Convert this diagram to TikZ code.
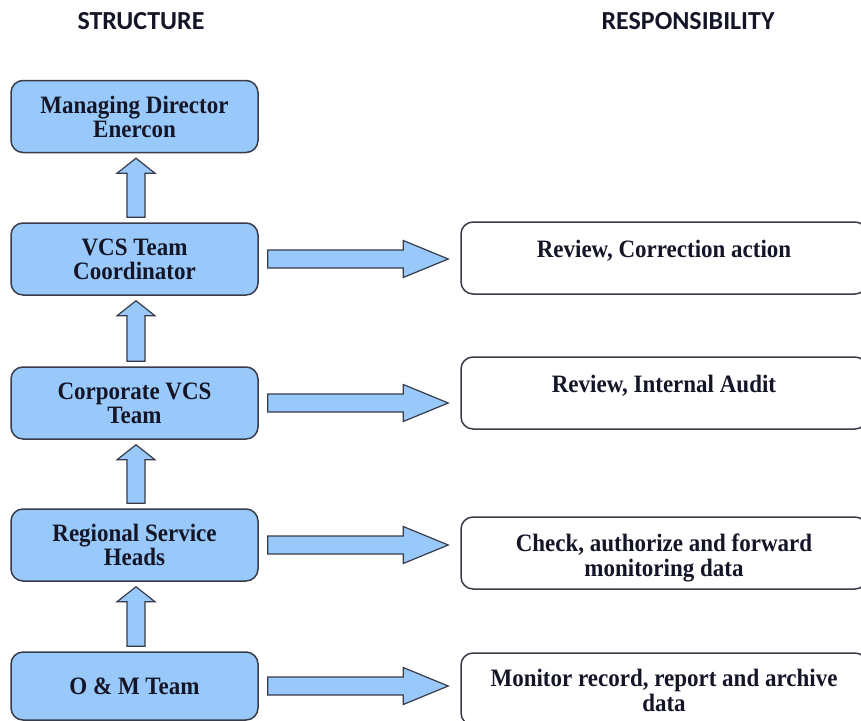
\documentclass[tikz,border=0pt]{standalone}
\usepackage{fontspec}
\setmainfont{Liberation Serif}
\newfontfamily\boxfont[FakeStretch=0.92]{Liberation Serif}
\newfontfamily\headfont{Carlito}
\usetikzlibrary{shapes,backgrounds,arrows,calc}
\definecolor{boxblue}{RGB}{153,201,250}
\definecolor{boxline}{RGB}{55,60,72}
\definecolor{txt}{RGB}{20,22,40}

\newcommand{\blockup}[2]{%
	\draw[blockarrow] ($(#1.north)+(-7.5,-5)$) -- ($(#2.south)+(-7.5,20)$) -- ($(#2.south)+(-17.5,20)$) -- ($(#2.south)+(1.5,5)$) -- ($(#2.south)+(20.5,20)$) -- ($(#2.south)+(10.5,20)$) -- ($(#1.north)+(10.5,-5)$) -- cycle;}
\newcommand{\blockright}[2]{%
	\draw[blockarrow] ($(#1.east)+(9,-9)$) -- ($(#1.east -| #2.west)+(-57,-9)$) -- ($(#1.east -| #2.west)+(-57,-18.5)$) -- ($(#1.east -| #2.west)+(-12,0)$) -- ($(#1.east -| #2.west)+(-57,18.5)$) -- ($(#1.east -| #2.west)+(-57,9)$) -- ($(#1.east)+(9,9)$) -- cycle;}

\begin{document}
\begin{tikzpicture}[x=1pt,y=-1pt,
	struct/.style={draw=boxline, line width=1.5pt, fill=boxblue, rounded corners=12pt, minimum width=247pt, minimum height=72pt, inner sep=0pt, align=center, text=txt, font=\boxfont\fontsize{25}{24}\selectfont\bfseries},
	resp/.style={draw=boxline, line width=1.5pt, fill=white, rounded corners=12pt, minimum width=406pt, minimum height=72pt, inner sep=0pt},
	resptext/.style={anchor=north, inner sep=0pt, align=center, text=txt, font=\boxfont\fontsize{25}{25}\selectfont\bfseries},
	head/.style={inner sep=0pt, text=txt, font=\headfont\fontsize{26}{28}\selectfont\bfseries},
	blockarrow/.style={draw=boxline, line width=1.2pt, fill=boxblue, line join=miter}]
			\useasboundingbox (0,0) rectangle (861,720);
			\clip (0,0) rectangle (861,720);
			\node[head] (structure) at (141,21.5) {STRUCTURE};
			\node[head] (responsibility) at (688,21.5) {RESPONSIBILITY};
			% structure column
			\node[struct] (director) at (134.5,116.5) {Managing Director\\Enercon};
			\node[struct] (coordinator) at (134.5,259) {VCS Team\\Coordinator};
			\node[struct] (corporate) at (134.5,403) {Corporate VCS\\Team};
			\node[struct] (regional) at (134.5,545) {Regional Service\\Heads};
			\node[struct, minimum height=68pt] (om) at (134.5,686) {O \& M Team};
			% responsibility column
			\node[resp] (review) at (664,258) {};
			\node[resp] (audit) at (664,393) {};
			\node[resp] (check) at (664,553) {};
			\node[resp] (monitor) at (664,689) {};
			\node[resptext] (reviewtext) at ($(review.north)+(0,18.5)$) {Review, Correction action};
			\node[resptext] (audittext) at ($(audit.north)+(0,18.5)$) {Review, Internal Audit};
			\node[resptext] (checktext) at ($(check.north)+(0,17)$) {Check, authorize and forward\\monitoring data};
			\node[resptext] (monitortext) at ($(monitor.north)+(0,17)$) {Monitor record, report and archive\\data};
			% arrows
			\blockup{coordinator}{director}
			\blockup{corporate}{coordinator}
			\blockup{regional}{corporate}
			\blockup{om}{regional}
			\blockright{coordinator}{review}
			\blockright{corporate}{audit}
			\blockright{regional}{check}
			\blockright{om}{monitor}
\end{tikzpicture}
\end{document}
